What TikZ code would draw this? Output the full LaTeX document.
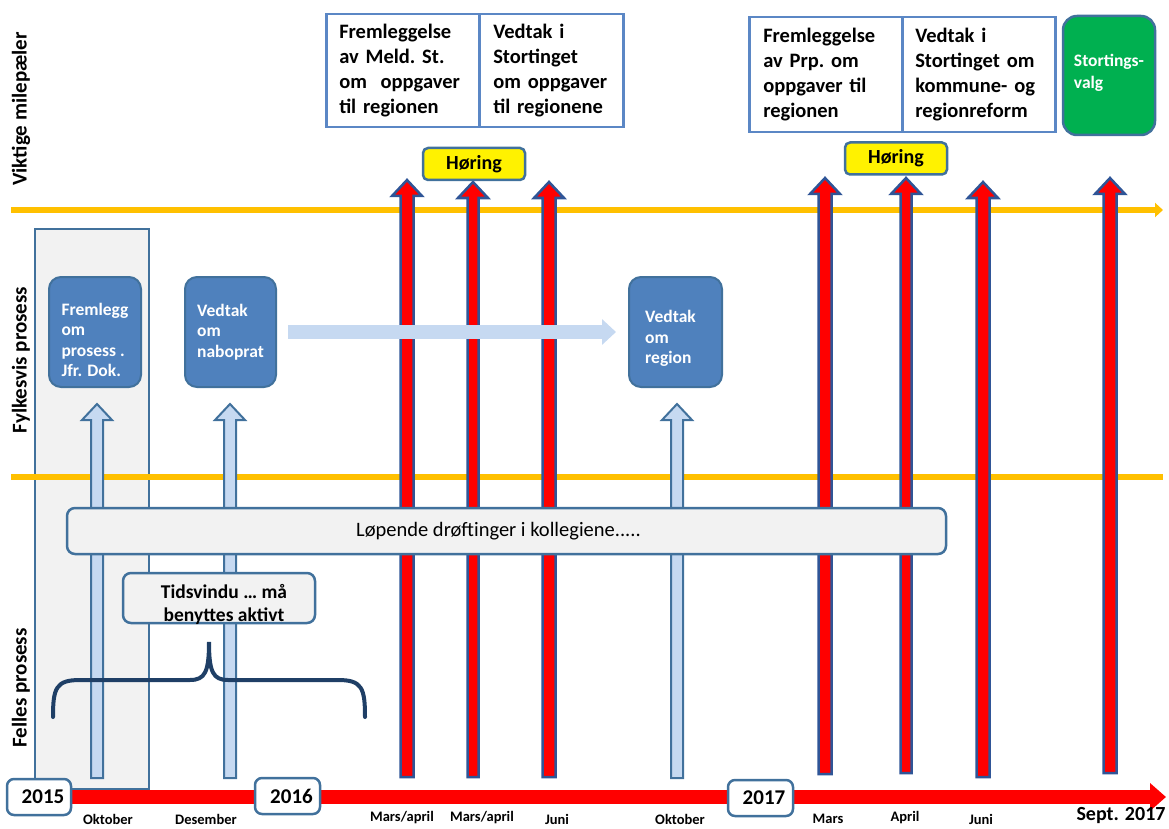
\documentclass[tikz,border=0pt]{standalone}
\usepackage{fontspec}
\setmainfont{Carlito}
\usetikzlibrary{arrows.meta}
\definecolor{bdr}{HTML}{41719C}
\definecolor{darkbdr}{HTML}{2F5597}
\definecolor{nodeblue}{HTML}{4F81BD}
\definecolor{lightfill}{HTML}{C6D9F1}
\definecolor{yel}{HTML}{FFC000}
\definecolor{grayfill}{HTML}{F2F2F2}
\definecolor{topblue}{HTML}{5B87C5}
\definecolor{grn}{HTML}{00B050}
\definecolor{bracec}{HTML}{1F3F66}
\definecolor{redc}{HTML}{FF0000}
\newcommand{\UpArr}[5]{%
  \draw[#5] ({#1-#4},#3) -- ({#1-#4},{#2+16}) -- ({#1-15},{#2+16}) -- (#1,#2) -- ({#1+15},{#2+16}) -- ({#1+#4},{#2+16}) -- ({#1+#4},#3) -- cycle;}
\tikzset{
  redup/.style={fill=redc, draw=darkbdr, line width=2.5pt, line join=miter},
  lightup/.style={fill=lightfill, draw=bdr, line width=2pt, line join=miter},
  yline/.style={draw=yel, line width=6pt},
  redline/.style={draw=redc, line width=14pt, -{Triangle[width=27pt,length=16pt]}},
  lightarrow/.style={draw=lightfill, line width=14pt, -{Triangle[width=25pt,length=14pt]}, shorten <=11pt, shorten >=12pt},
  bluebox/.style={draw=bdr, fill=nodeblue, line width=2pt, rounded corners=12pt, text=white,
    font=\bfseries\fontsize{17.5}{20.5}\selectfont, align=left, minimum width=92pt, minimum height=110pt, inner sep=0pt},
  topbox/.style={draw=topblue, fill=white, line width=2.5pt, font=\bfseries\fontsize{20.5}{25}\selectfont,
    align=left, inner ysep=0pt, anchor=north west},
  yearbox/.style={draw=bdr, fill=white, line width=2.5pt, rounded corners=7pt, minimum width=64pt,
    minimum height=36pt, inner sep=0pt, font=\bfseries\fontsize{21}{24}\selectfont},
  month/.style={font=\bfseries\fontsize{14.5}{16}\selectfont, inner sep=0pt},
  sidelabel/.style={rotate=90, font=\bfseries\fontsize{21}{24}\selectfont, inner sep=0pt},
  horing/.style={draw=bdr, fill=yellow, line width=2.5pt, rounded corners=5pt, minimum width=102pt,
    minimum height=32pt, inner sep=0pt, font=\bfseries\fontsize{20}{24}\selectfont},
  graybox/.style={draw=bdr, fill=grayfill, line width=2.5pt, rounded corners=8pt, inner sep=0pt},
}
\begin{document}
\begin{tikzpicture}[x=1pt,y=-1pt]
\useasboundingbox (0,0) rectangle (1169,829);
% gray background column
\draw[draw=bdr, fill=grayfill, line width=2pt] (35,229) rectangle (149,789);
% yellow lines
\coordinate (yl1s) at (11,210);
\coordinate (yl1e) at (1163,210);
\coordinate (yl2s) at (11,477);
\coordinate (yl2e) at (1163,477);
\draw[yline, -{Triangle[width=14pt,length=8pt]}] (yl1s) -- (yl1e);
\draw[yline] (yl2s) -- (yl2e);
% red timeline
\node[yearbox, draw=none, fill=none] (y15pos) at (39,797) {};
\coordinate (tlend) at (1166,797);
\draw[redline] (y15pos.center) -- (tlend);
% red milestone arrows
\UpArr{407}{180}{777}{6.5}{redup}
\UpArr{473}{182}{777}{5.5}{redup}
\UpArr{549}{182}{777}{6.5}{redup}
\UpArr{825}{178}{774}{6.5}{redup}
\UpArr{906}{178}{773}{5.5}{redup}
\UpArr{983}{182}{777}{6.5}{redup}
\UpArr{1110}{178}{773}{6.5}{redup}
% light blue arrows
\UpArr{97}{404}{778}{6}{lightup}
\UpArr{230}{404}{778}{6}{lightup}
\UpArr{677}{404}{778}{6}{lightup}
% blue nodes
\node[bluebox] (n1) at (95,332) {Fremlegg\\om\\prosess .\\Jfr. Dok.\\[-36pt]\mbox{}};
\node[bluebox, minimum width=91pt] (n2) at (230.5,332) {Vedtak\\om\\naboprat};
\node[bluebox, minimum width=93pt] (n3) at (675.5,332) {\hspace*{-10pt}Vedtak\\\hspace*{-10pt}om\\\hspace*{-10pt}region\\[-31pt]\mbox{}};
\draw[lightarrow] (n2) -- (n3);
% discussion boxes
\node[graybox, minimum width=879pt, minimum height=46pt, font=\fontsize{20.5}{24}\selectfont] (lop) at (506.5,531) {Løpende drøftinger i kollegiene.....\kern16pt};
\node[graybox, minimum width=192pt, minimum height=50pt, align=center, font=\bfseries\fontsize{19.5}{23}\selectfont] (tid) at (219,598) {\hspace*{10pt}Tidsvindu … må\\\hspace*{10pt}benyttes aktivt\\[-33pt]\mbox{}};
% brace
\draw[bracec, line width=4pt, line cap=round] (53,717) .. controls (53,688) and (56,680) .. (80,680) -- (190,680) .. controls (205,680) and (209,672) .. (209,642) .. controls (209,672) and (213,680) .. (228,680) -- (338,680) .. controls (362,680) and (365,688) .. (365,717);
% year boxes
\node[yearbox] (y2015) at (39,797) {\hspace*{8pt}2015};
\node[yearbox, minimum width=65pt] (y2016) at (287.5,796) {\hspace*{8pt}2016};
\node[yearbox, minimum width=65pt] (y2017) at (760.5,798) {\hspace*{7pt}2017};
% month labels
\node[month] (m1) at (108,819) {Oktober};
\node[month] (m2) at (206,819) {Desember};
\node[month] (m3) at (402,818) {Mars/april};
\node[month] (m4) at (482,818) {Mars/april};
\node[month] (m5) at (557,819) {Juni};
\node[month] (m6) at (680,819) {Oktober};
\node[month] (m7) at (828,819) {Mars};
\node[month] (m8) at (905,818) {April};
\node[month] (m9) at (981,819) {Juni};
\node[font=\bfseries\fontsize{20}{22}\selectfont, inner sep=0pt] (sept) at (1121,816) {Sept. 2017};
% top boxes
\node[topbox, inner xsep=13pt, text width=127pt, minimum height=113pt] (t1a) at (325,13) {Fremleggelse\\av~Meld.~St.\\om~~oppgaver\\til~regionen};
\node[topbox, inner xsep=14pt, text width=116pt, minimum height=113pt] (t1b) at (478,13) {Vedtak~i\\Stortinget\\om~oppgaver\\til~regionene};
\node[topbox, inner xsep=14pt, text width=125pt, minimum height=115pt] (t2a) at (748,16) {Fremleggelse\\av~Prp.~om\\oppgaver~til\\regionen};
\node[topbox, inner xsep=13pt, text width=127pt, minimum height=115pt] (t2b) at (901,16) {Vedtak~i\\Stortinget~om\\kommune-~og\\regionreform};
\node[draw=bdr, fill=grn, line width=2.5pt, rounded corners=14pt, minimum width=92pt, minimum height=119pt, inner sep=0pt, text=white, align=left, font=\bfseries\fontsize{17.5}{22}\selectfont] (valg) at (1109,75.5) {Stortings-\\valg\\[-13pt]\mbox{}};
% hearing boxes
\node[horing] (h1) at (474,164) {Høring};
\node[horing] (h2) at (896,158.5) {Høring};
% side labels
\node[sidelabel] (s1) at (21,109) {Viktige milepæler};
\node[sidelabel] (s2) at (21,360) {Fylkesvis prosess};
\node[sidelabel] (s3) at (21,688) {Felles prosess};
\end{tikzpicture}
\end{document}
